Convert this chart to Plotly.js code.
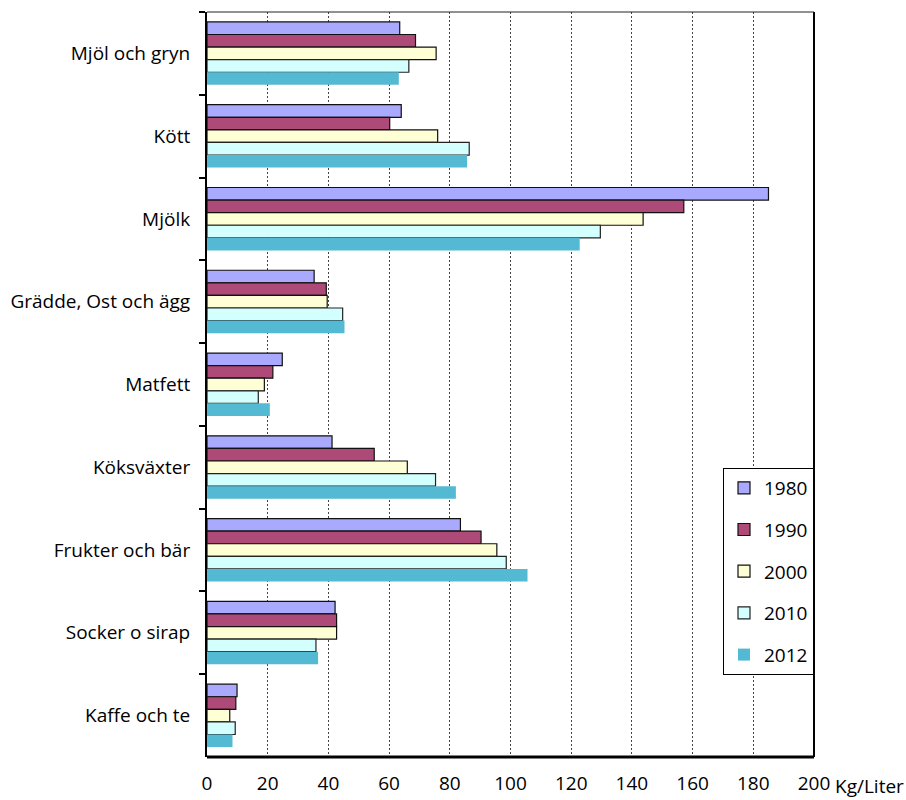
<!DOCTYPE html>
<html>
<head>
<meta charset="utf-8">
<script src="https://cdn.plot.ly/plotly-3.0.1.min.js"></script>
<style>html,body{margin:0;padding:0;background:#fff;}#chart{width:906px;height:800px;}</style>
</head>
<body>
<div id="chart"></div>
<script>
const categories = ["Mjöl och gryn", "Kött", "Mjölk", "Grädde, Ost och ägg", "Matfett", "Köksväxter", "Frukter och bär", "Socker o sirap", "Kaffe och te"];
const years = ["1980", "1990", "2000", "2010", "2012"];
const v1980 = [63.5, 64.0, 185.0, 35.3, 24.8, 41.2, 83.5, 42.2, 9.9];
const v1990 = [68.7, 60.2, 157.1, 39.3, 21.7, 55.1, 90.3, 42.7, 9.5];
const v2000 = [75.5, 76.0, 143.7, 39.6, 18.9, 66.0, 95.5, 42.7, 7.5];
const v2010 = [66.5, 86.4, 129.6, 44.7, 16.9, 75.3, 98.6, 35.9, 9.3];
const v2012 = [63.2, 85.7, 122.8, 45.3, 20.7, 82.0, 105.6, 36.6, 8.4];
const xTicks = [0, 20, 40, 60, 80, 100, 120, 140, 160, 180, 200];
const unitLabel = "Kg/Liter";

const series = [v1980, v1990, v2000, v2010, v2012];
const fills = ["#a9a9fd", "#ae4a78", "#ffffd6", "#d4ffff", "#54b9d2"];
const lines = ["#111", "#111", "#111", "#222", "#54b9d2"];
const FONT = "Open Sans, sans-serif";
const FS = 19;

const traces = series.map((vals, i) => ({
  type: "bar",
  orientation: "h",
  name: years[i],
  x: vals,
  y: categories,
  legendgroup: "g" + i,
  marker: {color: fills[i], line: {color: lines[i], width: i === 4 ? 0 : 1.2}},
  hoverinfo: "x+name"
}));

const layout = {
  width: 906, height: 800,
  margin: {l: 207, r: 92, t: 12, b: 43},
  paper_bgcolor: "#fff", plot_bgcolor: "#fff",
  font: {family: FONT, size: FS, color: "#000"},
  barmode: "group",
  bargap: 0.24,
  bargroupgap: 0,
  showlegend: true,
  legend: {
    x: 1, xanchor: "right", y: 0.388, yanchor: "top",
    bgcolor: "#fff", bordercolor: "#000", borderwidth: 1,
    font: {family: FONT, size: FS, color: "#000"},
    traceorder: "grouped", tracegroupgap: 14,
    itemwidth: 30
  },
  xaxis: {
    range: [0, 200], tickvals: xTicks, ticktext: xTicks.map(String),
    showgrid: true, gridcolor: "#444", gridwidth: 1, griddash: "2px,2px",
    zeroline: false, showline: false, ticks: "",
    ticklabelstandoff: 13,
    tickfont: {family: FONT, size: FS, color: "#000"},
    fixedrange: true
  },
  yaxis: {
    type: "category", autorange: "reversed",
    showgrid: false, zeroline: false,
    showline: true, linecolor: "#000", linewidth: 2,
    ticks: "outside", tickson: "boundaries", ticklen: 6, tickwidth: 2, tickcolor: "#000",
    ticklabelstandoff: 11,
    tickfont: {family: FONT, size: FS, color: "#000"},
    fixedrange: true
  },
  shapes: [
    {type: "line", xref: "paper", yref: "paper", x0: 0, x1: 1, y0: 0, y1: 0, line: {color: "#000", width: 3}},
    {type: "line", xref: "paper", yref: "paper", x0: 1, x1: 1, y0: 0, y1: 1, line: {color: "#000", width: 2}},
    {type: "line", xref: "paper", yref: "paper", x0: 0, x1: 1, y0: 1, y1: 1, line: {color: "#222", width: 1}}
  ],
  annotations: [
    {text: unitLabel, xref: "paper", yref: "paper", x: 1, y: 0, xanchor: "left", yanchor: "top",
     xshift: 19, yshift: -14, showarrow: false, font: {family: FONT, size: FS, color: "#000"}}
  ]
};

Plotly.newPlot("chart", traces, layout, {displayModeBar: false, staticPlot: false});
</script>
</body>
</html>
